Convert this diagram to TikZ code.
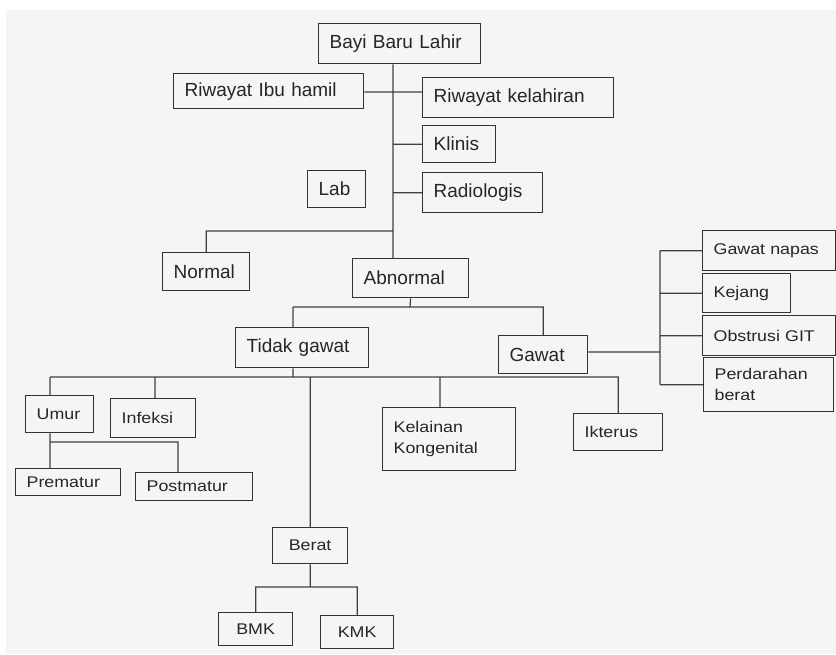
\documentclass[tikz,border=0pt]{standalone}
\usepackage{fontspec}
\setmainfont{Liberation Sans}
\newfontfamily\lowfont{Liberation Sans}[FakeStretch=1.15]
\usepackage{tikz}
\usetikzlibrary{calc}
\begin{document}
\begin{tikzpicture}[x=1pt, y=-1pt,
		box/.style={draw=black!80, line width=1.3pt, anchor=north west, align=left, inner xsep=11pt, inner ysep=2pt, text=black!85},
		big/.style={font=\fontsize{19}{22}\selectfont},
		small/.style={font=\lowfont\fontsize{15.5}{20.5}\selectfont},
		conn/.style={draw=black!75, line width=1.2pt}]
			\useasboundingbox (0,0) rectangle (836,654);
			\fill[white] (0,0) rectangle (836,654);
			\fill[black!4] (6,10) rectangle (836,654);

			\node[box, big, text width=140pt, minimum height=40pt] (bayi) at (318,23) {Bayi Baru Lahir};
			\node[box, big, text width=168pt, minimum height=35pt] (ibu) at (173,73) {Riwayat Ibu hamil};
			\node[box, big, text width=169pt, minimum height=40pt] (kelahiran) at (422,77) {Riwayat kelahiran};
			\node[box, big, text width=51pt, minimum height=37pt] (klinis) at (422,125) {Klinis};
			\node[box, big, text width=36pt, minimum height=37pt] (lab) at (307,170) {Lab};
			\node[box, big, text width=98pt, minimum height=40pt] (radiologis) at (422,172) {Radiologis};
			\node[box, big, text width=65pt, minimum height=38pt] (normal) at (162,252) {Normal};
			\node[box, big, text width=94pt, minimum height=39pt] (abnormal) at (352,258) {Abnormal};
			\node[box, big, text width=111pt, minimum height=40pt] (tidak) at (235,327) {Tidak gawat};
			\node[box, big, text width=67pt, minimum height=38pt] (gawat) at (498,335) {Gawat};
			\node[box, small, text width=111pt, minimum height=40pt] (napas) at (702,230) {Gawat napas};
			\node[box, small, text width=66pt, minimum height=39pt] (kejang) at (702,273) {Kejang};
			\node[box, small, text width=111pt, minimum height=40pt] (obstrusi) at (702,315) {Obstrusi GIT};
			\node[box, small, text width=108pt, minimum height=54pt] (perdarahan) at (703,357) {Perdarahan\\berat};
			\node[box, small, text width=46pt, minimum height=37pt] (umur) at (25,395) {Umur};
			\node[box, small, text width=63pt, minimum height=39pt] (infeksi) at (110,398) {Infeksi};
			\node[box, small, text width=111pt, minimum height=63pt] (kelainan) at (382,407) {Kelainan\\Kongenital};
			\node[box, small, text width=67pt, minimum height=37pt] (ikterus) at (573,413) {Ikterus};
			\node[box, small, text width=83pt, minimum height=27pt] (prematur) at (15,468) {Prematur};
			\node[box, small, text width=95pt, minimum height=28pt] (postmatur) at (135,472) {Postmatur};
			\node[box, small, align=center, text width=53pt, minimum height=36pt] (berat) at (272,527) {Berat};
			\node[box, small, align=center, text width=52pt, minimum height=33pt] (bmk) at (218,612) {BMK};
			\node[box, small, align=center, text width=51pt, minimum height=33pt] (kmk) at (320,615) {KMK};

			\coordinate (j0) at (393,92);
			\coordinate (j1) at (393,231);
			\coordinate (j2) at (410,307);
			\coordinate (j3) at (293,307);
			\coordinate (j4) at (660,352);
			\coordinate (k0) at (293,377);
			\coordinate (k1) at (50,377);
			\coordinate (k2) at (155,377);
			\coordinate (k4) at (440,377);
			\coordinate (u0) at (50,442);
			\coordinate (u1) at (178,442);
			\coordinate (b0) at (310,587);

			\path[conn]
			(bayi.south -| j0) -- (abnormal.north -| j0)
			(ibu.east |- j0) -- (kelahiran.west |- j0)
			(klinis.west) -- (klinis.west -| j0)
			(radiologis.west) -- (radiologis.west -| j0)
			(j1) -| (normal.north)
			(abnormal.south) -- (j2)
			(j3) -- (j3 -| gawat.north) -- (gawat.north)
			(j3) -- (j3 |- tidak.north)
			(gawat.east |- j4) -- (j4)
			(j4 |- napas.west) -- (j4 |- perdarahan.west)
			(napas.west) -- (napas.west -| j4)
			(kejang.west) -- (kejang.west -| j4)
			(obstrusi.west) -- (obstrusi.west -| j4)
			(perdarahan.west) -- (perdarahan.west -| j4)
			(tidak.south -| k0) -- (k0)
			(k1) -- (k1 -| ikterus.north) -- (ikterus.north)
			(k1) -- (k1 |- umur.north)
			(k2) -- (k2 |- infeksi.north)
			(berat.north) -- (berat.north |- k1)
			(k4) -- (k4 |- kelainan.north)
			(umur.south -| u0) -- (u0 |- prematur.north)
			(u0) -- (u1) -- (u1 |- postmatur.north)
			(berat.south) -- (berat.south |- b0)
			(bmk.north) |- (b0) -| (kmk.north);
		\end{tikzpicture}
\end{document}
